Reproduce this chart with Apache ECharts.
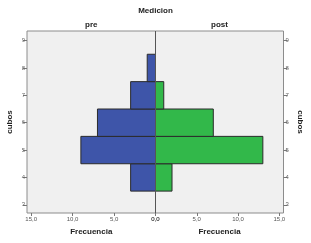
<!DOCTYPE html>
<html>
<head>
<meta charset="utf-8" />
<script src="https://cdn.jsdelivr.net/npm/echarts@6/dist/echarts.min.js"></script>
<style>
  html, body { margin: 0; padding: 0; background: #fff; }
  #main { width: 311px; height: 243px; }
</style>
</head>
<body>
<div id="main"></div>
<script>
// cubos bins and frequencies per panel
var cubos = [3, 4, 5, 6, 7, 8, 9];
var preFreq = [0, 3, 9, 7, 3, 1, 0];
var postFreq = [0, 2, 13, 7, 1, 0, 0];
var yTicks = [3, 4, 5, 6, 7, 8, 9];
var xTicks = [0, 5, 10, 15];
var panels = ["pre", "post"];

var chart = echarts.init(document.getElementById("main"));
var font = "Liberation Sans";

function toData(freq) {
    var out = [];
    for (var i = 0; i < cubos.length; i++) {
        if (freq[i] > 0) out.push([freq[i], cubos[i]]);
    }
    return out;
}

function renderBar(params, api) {
    var f = api.value(0), c = api.value(1);
    var p0 = api.coord([0, c + 0.5]);
    var p1 = api.coord([f, c - 0.5]);
    return {
        type: "rect",
        shape: {
            x: Math.min(p0[0], p1[0]),
            y: p0[1],
            width: Math.abs(p1[0] - p0[0]),
            height: p1[1] - p0[1]
        },
        style: { fill: api.visual("color"), stroke: "#2b2b2b", lineWidth: 1 }
    };
}

function fmtX(v) {
    return v.toFixed(1).replace(".", ",");
}

function xAxisBottom(grid, inverse) {
    return {
        type: "value", gridIndex: grid, position: "bottom",
        min: 0, max: 15.5, inverse: inverse,
        name: "Frecuencia", nameLocation: "middle", nameGap: 15,
        nameTextStyle: { fontFamily: font, fontSize: 8, fontWeight: "bold", color: "#222" },
        axisLine: { show: false, onZero: false },
        axisTick: { show: true, customValues: xTicks, length: 3, lineStyle: { color: "#777" } },
        axisLabel: { customValues: xTicks, formatter: fmtX, fontFamily: font, fontSize: 6, color: "#555", margin: 3 },
        splitLine: { show: false }
    };
}

function xAxisTop(grid, label) {
    return {
        type: "value", gridIndex: grid, position: "top", min: 0, max: 1,
        name: label, nameLocation: "middle", nameGap: 2,
        nameTextStyle: { fontFamily: font, fontSize: 8, fontWeight: "bold", color: "#222" },
        axisLine: { show: false, onZero: false }, axisTick: { show: false },
        axisLabel: { show: false }, splitLine: { show: false }
    };
}

function yAxisSide(grid, pos, rot) {
    return {
        type: "value", gridIndex: grid, position: pos, min: 2.7, max: 9.35,
        name: "cubos", nameLocation: "middle", nameGap: 13, nameRotate: rot,
        nameTextStyle: { fontFamily: font, fontSize: 8, fontWeight: "bold", color: "#222" },
        axisLine: { show: false, onZero: false },
        axisTick: { show: true, customValues: yTicks, length: 4, lineStyle: { color: "#777" } },
        axisLabel: { customValues: yTicks, fontFamily: font, fontSize: 6, color: "#666", margin: 2 },
        splitLine: { show: false }
    };
}

chart.setOption({
    animation: false,
    backgroundColor: "#fff",
    title: {
        text: "Medicion", left: "center", top: 2,
        textStyle: { fontFamily: font, fontSize: 8, fontWeight: "bold", color: "#222" }
    },
    grid: [
        { left: 27, top: 31, width: 128.5, height: 182, show: true, backgroundColor: "#f0f0f0", borderColor: "#8c8c8c", borderWidth: 1 },
        { left: 155.5, top: 31, width: 128, height: 182, show: true, backgroundColor: "#f0f0f0", borderColor: "#8c8c8c", borderWidth: 1 }
    ],
    xAxis: [
        xAxisBottom(0, true),
        xAxisBottom(1, false),
        xAxisTop(0, panels[0]),
        xAxisTop(1, panels[1])
    ],
    yAxis: [
        yAxisSide(0, "left", 90),
        yAxisSide(1, "right", -90)
    ],
    series: [
        {
            name: panels[0], type: "custom", xAxisIndex: 0, yAxisIndex: 0,
            itemStyle: { color: "#3e55a9" },
            renderItem: renderBar, data: toData(preFreq)
        },
        {
            name: panels[1], type: "custom", xAxisIndex: 1, yAxisIndex: 1,
            itemStyle: { color: "#32b84a" },
            renderItem: renderBar, data: toData(postFreq),
            markLine: {
                silent: true, symbol: "none", label: { show: false },
                lineStyle: { color: "#555", width: 1, type: "solid" },
                data: [{ xAxis: 0 }]
            }
        }
    ]
});
</script>
</body>
</html>
